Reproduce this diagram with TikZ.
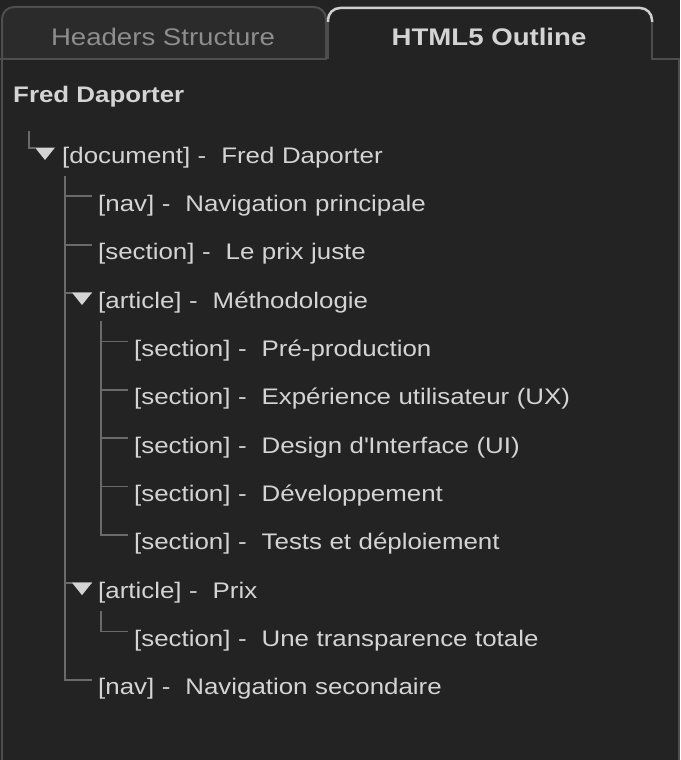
\documentclass[tikz,border=0pt]{standalone}
\usepackage{fontspec}
\setmainfont{Liberation Sans}[FakeStretch=1.15]
\usetikzlibrary{trees,calc}
\definecolor{panelbg}{HTML}{232323}
\definecolor{tabbg}{HTML}{2B2B2B}
\definecolor{tabedge}{HTML}{4E4E4E}
\definecolor{tabtop}{HTML}{CFCFCF}
\definecolor{linegray}{HTML}{6A6A6A}
\definecolor{fgtext}{HTML}{D4D4D4}
\definecolor{dimtext}{HTML}{8E8E8E}
\newcommand\outlinefont{\fontsize{22.5}{27}\selectfont}
\newcommand\tabfont{\fontsize{24}{28}\selectfont}
\tikzset{
  outline tree/.style = {grow via three points={one child at (36,48.35) and two children at (36,48.35) and (36,96.7)},
    edge from parent path={($(\tikzparentnode.base west)+(3,13)$) |- ($(\tikzchildnode.base west)+(-6,-15)$)}},
  branch/.style = {draw=linegray, line width=1.8pt},
  edge from parent/.style = {branch},
  treenode/.style = {anchor=center, inner sep=0pt, text width=460pt, align=left,
    text height=16pt, text depth=5pt, text=fgtext, font=\outlinefont},
  toggle/.style = {fill=fgtext},
  tabedge_l/.style = {draw=tabedge, line width=2pt},
  tabtext/.style = {anchor=base, inner sep=0pt, font=\tabfont}
}

\begin{document}
\begin{tikzpicture}[x=1pt, y=-1pt, outline tree]
\useasboundingbox[fill=panelbg] (0,0) rectangle (680,760);

% tabs
\draw[tabedge_l, fill=tabbg, rounded corners=12pt] (2,59) -- (2,7) -- (326,7) -- (326,59);
\draw[tabedge_l] (328,59) -- (328,20);
\draw[tabedge_l] (652,20) -- (652,59);
\draw[draw=tabtop, line width=2.5pt, rounded corners=12pt] (328,22) -- (328,8) -- (652,8) -- (652,22);
\draw[tabedge_l] (0,59) -- (327,59);
\draw[tabedge_l] (651,59) -- (680,59);
\draw[tabedge_l] (2,59) -- (2,760);
\draw[tabedge_l] (679,59) -- (679,760);

\node[tabtext, text=dimtext] (tab_hs) at (163,46) {Headers Structure};
\node[tabtext, text=fgtext, font=\tabfont\bfseries] (tab_ol) at (489,46) {HTML5 Outline};

\node[anchor=base west, inner sep=0pt, text=fgtext, font=\outlinefont\bfseries] (title) at (13,102.7) {Fred Daporter};

% outline
\node[treenode, anchor=base west] (doc) at (62,163) {[document] -\ \ Fred Daporter}
  child { node[treenode] (nav_a) {[nav] -\ \ Navigation principale} }
  child { node[treenode] (sec_a) {[section] -\ \ Le prix juste} }
  child { node[treenode] (art_a) {[article] -\ \ Méthodologie}
    child { node[treenode] (sec_b) {[section] -\ \ Pré-production} }
    child { node[treenode] (sec_c) {[section] -\ \ Expérience utilisateur (UX)} }
    child { node[treenode] (sec_d) {[section] -\ \ Design d\textquotesingle Interface (UI)} }
    child { node[treenode] (sec_e) {[section] -\ \ Développement} }
    child { node[treenode] (sec_f) {[section] -\ \ Tests et déploiement} }
  }
  child[missing]
  child[missing]
  child[missing]
  child[missing]
  child[missing]
  child { node[treenode] (art_b) {[article] -\ \ Prix}
    child { node[treenode] (sec_g) {[section] -\ \ Une transparence totale} }
  }
  child[missing]
  child { node[treenode] (nav_b) {[nav] -\ \ Navigation secondaire} };

\coordinate (doc_stub) at (29,131);
\draw[branch] (doc_stub) |- ($(doc.base west)+(-27,-15)$);

\fill[toggle] ($(doc.base west)+(-7,-15.5)$) -- ++(-20,0) -- ++(10,12.5) -- cycle;
\fill[toggle] ($(art_a.base west)+(-6,-15.5)$) -- ++(-20,0) -- ++(10,12.5) -- cycle;
\fill[toggle] ($(art_b.base west)+(-6,-15.5)$) -- ++(-20,0) -- ++(10,12.5) -- cycle;
\end{tikzpicture}
\end{document}
